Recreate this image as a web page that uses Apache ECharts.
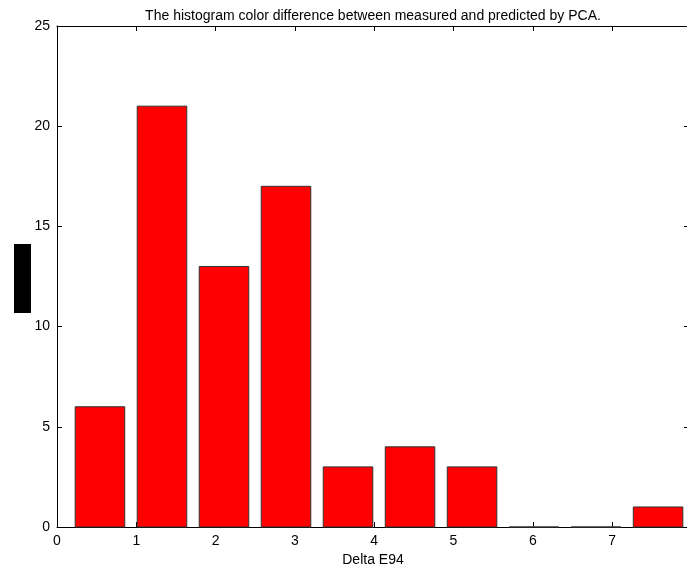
<!DOCTYPE html>
<html>
<head>
<meta charset="utf-8">
<script src="https://cdn.jsdelivr.net/npm/echarts@6/dist/echarts.min.js"></script>
<style>
  html, body { margin: 0; padding: 0; background: #fff; }
  #histChart { width: 687px; height: 567px; }
</style>
</head>
<body>
<div id="histChart"></div>
<script>
// bin centres (Delta E94) and counts
var binCenters = [0.542, 1.324, 2.106, 2.888, 3.67, 4.452, 5.234, 6.016, 6.798, 7.58];
var counts = [6, 21, 13, 17, 3, 4, 3, 0, 0, 1];
var xTicks = [0, 1, 2, 3, 4, 5, 6, 7];
var yTicks = [0, 5, 10, 15, 20, 25];

var barWidth = 0.625; // in data units, 0.8 of the bin spacing
var font = 'Liberation Sans, Arial, sans-serif';

var chart = echarts.init(document.getElementById('histChart'));

function frameAxis(pos) {
  // axis line + inward ticks, MATLAB style box
  return {
    position: pos,
    axisLine: { show: true, onZero: false, lineStyle: { color: '#000', width: 1 } },
    axisTick: { show: true, inside: true, length: 5, lineStyle: { color: '#000' } },
    splitLine: { show: false }
  };
}

var xBottom = Object.assign(frameAxis('bottom'), {
  type: 'value', min: 0, max: 7.97, interval: 1,
  name: 'Delta E94',
  nameLocation: 'middle',
  nameGap: 23,
  nameTextStyle: { fontFamily: font, fontSize: 14, color: '#000' },
  axisLabel: {
    fontFamily: font, fontSize: 14, color: '#000', margin: 7,
    showMaxLabel: false,
    formatter: function (v) { return xTicks.indexOf(v) >= 0 ? String(v) : ''; }
  }
});
var xTop = Object.assign(frameAxis('top'), {
  type: 'value', min: 0, max: 7.97, interval: 1,
  axisLabel: { show: false }
});
var yLeft = Object.assign(frameAxis('left'), {
  type: 'value', min: 0, max: 25, interval: 5,
  axisLabel: {
    fontFamily: font, fontSize: 14, color: '#000', margin: 7,
    formatter: function (v) { return yTicks.indexOf(v) >= 0 ? String(v) : ''; }
  }
});
var yRight = Object.assign(frameAxis('right'), {
  type: 'value', min: 0, max: 25, interval: 5,
  axisLabel: { show: false }
});

chart.setOption({
  animation: false,
  title: {
    text: 'The histogram color difference between measured and predicted by PCA.',
    left: 368,
    textAlign: 'center',
    top: 4,
    textStyle: { fontFamily: font, fontSize: 14, fontWeight: 'normal', color: '#000' }
  },
  grid: { left: 57, top: 26, width: 632, height: 501, outerBoundsMode: 'none' },
  xAxis: [xBottom, xTop],
  yAxis: [yLeft, yRight],
  graphic: [
    {
      // the y label in the original came out as a solid black block
      type: 'rect',
      left: 14,
      top: 244,
      shape: { width: 17, height: 69 },
      style: { fill: '#000' }
    }
  ],
  series: [
    {
      type: 'custom',
      xAxisIndex: 0,
      yAxisIndex: 0,
      data: binCenters.map(function (c, i) { return [c, counts[i]]; }),
      renderItem: function (params, api) {
        var c = api.value(0);
        var v = api.value(1);
        var p0 = api.coord([c - barWidth / 2, v]);
        var p1 = api.coord([c + barWidth / 2, 0]);
        return {
          type: 'rect',
          shape: { x: p0[0], y: p0[1], width: p1[0] - p0[0], height: p1[1] - p0[1] },
          style: { fill: '#ff0000', stroke: '#333', lineWidth: 1 }
        };
      }
    }
  ]
});
</script>
</body>
</html>
